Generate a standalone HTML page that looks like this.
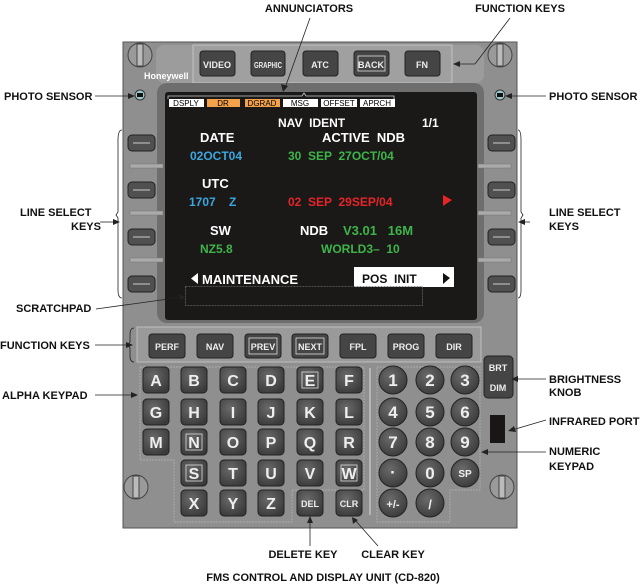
<!DOCTYPE html>
<html><head><meta charset="utf-8"><style>
html,body{margin:0;padding:0;background:#fff;width:640px;height:585px;overflow:hidden}
svg{display:block}
text{white-space:pre}
.lb{font-family:"Liberation Sans",Arial,sans-serif;font-weight:bold;font-size:11px;fill:#111}
.k{font-family:"Liberation Sans",Arial,sans-serif;font-weight:bold;fill:#eee;text-anchor:middle}
.s{font-family:"Liberation Sans",Arial,sans-serif;font-weight:bold;font-size:12px}
.ann{font-family:"Liberation Sans",Arial,sans-serif;font-size:8px;fill:#000;text-anchor:middle}
</style></head><body>
<svg width="640" height="585" viewBox="0 0 640 585" xmlns="http://www.w3.org/2000/svg" xml:space="preserve">
<defs>
<radialGradient id="kg" cx="40%" cy="35%" r="70%"><stop offset="0" stop-color="#6a6a6a"/><stop offset="1" stop-color="#3a3a3a"/></radialGradient>
</defs>
<rect x="123" y="42" width="394" height="486" fill="#8f8f8f" stroke="#555" stroke-width="1"/>
<rect x="156" y="45" width="328" height="38" rx="8" fill="#9c9c9c"/>
<rect x="193" y="45" width="259" height="38" fill="#a0a0a0" stroke="#ccc" stroke-width="0.8"/>
<rect x="157" y="83" width="327" height="240" rx="10" fill="#6e6e6e"/>
<rect x="165" y="92" width="312" height="228" rx="3" fill="#1b1818"/>
<rect x="137" y="327" width="344" height="35" fill="#9a9a9a" stroke="#c8c8c8" stroke-width="0.8"/>
<g stroke="#444" stroke-width="1">
<circle cx="140" cy="55" r="12" fill="#9a9a9a"/><rect x="137" y="44" width="6" height="22" fill="#bbb"/>
<circle cx="500" cy="55" r="12" fill="#9a9a9a"/><rect x="497" y="44" width="6" height="22" fill="#bbb"/>
<circle cx="136" cy="487" r="12" fill="#9a9a9a"/><rect x="133" y="476" width="6" height="22" fill="#bbb"/>
<circle cx="502" cy="487" r="12" fill="#9a9a9a"/><rect x="499" y="476" width="6" height="22" fill="#bbb"/>
</g>
<text x="144" y="79" font-family="Liberation Sans,Arial,sans-serif" font-weight="bold" font-size="9" fill="#fff">Honeywell</text>
<circle cx="140" cy="95" r="5" fill="#9cc8cc" stroke="#333"/><rect x="137" y="93" width="6" height="4" fill="#111"/>
<circle cx="500" cy="95" r="5" fill="#9cc8cc" stroke="#333"/><rect x="497" y="93" width="6" height="4" fill="#111"/>
<g>
<rect x="200" y="51" width="35" height="25" rx="3" fill="#454545" stroke="#222"/><text class="k" x="217" y="68" font-size="9">VIDEO</text>
<rect x="251" y="51" width="34" height="25" rx="3" fill="#454545" stroke="#222"/><text class="k" x="268" y="68" font-size="8" textLength="28" lengthAdjust="spacingAndGlyphs">GRAPHIC</text>
<rect x="303" y="51" width="35" height="25" rx="3" fill="#454545" stroke="#222"/><text class="k" x="320" y="68" font-size="9">ATC</text>
<rect x="354" y="51" width="35" height="25" rx="3" fill="#454545" stroke="#222"/><rect x="358" y="56" width="27" height="15" fill="none" stroke="#ddd" stroke-width="0.8"/><text class="k" x="371" y="68" font-size="9">BACK</text>
<rect x="405" y="51" width="35" height="25" rx="3" fill="#454545" stroke="#222"/><text class="k" x="422" y="68" font-size="9">FN</text>
</g>
<path d="M168 99 v-3 h134 l2 -3 l2 3 h88 v3" fill="none" stroke="#ccc" stroke-width="0.8"/>
<rect x="169" y="99" width="35" height="8" fill="#fff"/><text class="ann" x="186" y="106">DSPLY</text>
<rect x="207" y="99" width="33" height="8" fill="#f3a24a"/><text class="ann" x="223" y="106">DR</text>
<rect x="245" y="99" width="35" height="8" fill="#f3a24a"/><text class="ann" x="262" y="106">DGRAD</text>
<rect x="283" y="99" width="35" height="8" fill="#fff"/><text class="ann" x="300" y="106">MSG</text>
<rect x="321" y="99" width="36" height="8" fill="#fff"/><text class="ann" x="339" y="106">OFFSET</text>
<rect x="360" y="99" width="35" height="8" fill="#fff"/><text class="ann" x="377" y="106">APRCH</text>
<g class="s">
<text x="278" y="127" fill="#fff">NAV  IDENT</text>
<text x="422" y="127" fill="#fff">1/1</text>
<text x="200" y="142" fill="#fff" font-size="13">DATE</text>
<text x="322" y="142" fill="#fff" font-size="13">ACTIVE  NDB</text>
<text x="190" y="160" fill="#3aa7e0">02OCT04</text>
<text x="288" y="160" fill="#3db54a">30  SEP  27OCT/04</text>
<text x="202" y="188" fill="#fff" font-size="13">UTC</text>
<text x="189" y="206" fill="#3aa7e0">1707    Z</text>
<text x="288" y="206" fill="#e52528">02  SEP  29SEP/04</text>
<text x="210" y="235" fill="#fff" font-size="13">SW</text>
<text x="300" y="235" fill="#fff" font-size="13">NDB</text>
<text x="343" y="235" fill="#3db54a" font-size="13">V3.01   16M</text>
<text x="200" y="253" fill="#3db54a">NZ5.8</text>
<text x="321" y="253" fill="#3db54a">WORLD3–  10</text>
<text x="202" y="284" fill="#fff" font-size="13">MAINTENANCE</text>
</g>
<polygon points="443,195 452,200 443,206" fill="#e52528"/>
<polygon points="198,273 191,278.5 198,284" fill="#fff"/>
<rect x="354" y="267" width="100" height="20" fill="#fff"/>
<text class="s" x="362" y="283" fill="#111" font-size="13">POS  INIT</text>
<polygon points="443,273 450,278 443,284" fill="#111"/>
<rect x="185.5" y="286.5" width="237" height="19" fill="none" stroke="#666" stroke-dasharray="2,1" stroke-width="0.8"/>
<g>
<g fill="#505050" stroke="#222">
<rect x="128" y="135" width="27" height="16" rx="4"/><rect x="128" y="182" width="27" height="16" rx="4"/><rect x="128" y="229" width="27" height="16" rx="4"/><rect x="128" y="276" width="27" height="16" rx="4"/>
<rect x="488" y="135" width="27" height="16" rx="4"/><rect x="488" y="182" width="27" height="16" rx="4"/><rect x="488" y="229" width="27" height="16" rx="4"/><rect x="488" y="276" width="27" height="16" rx="4"/>
</g>
<g stroke="#ccc" stroke-width="1">
<line x1="133" y1="143" x2="150" y2="143"/><line x1="133" y1="190" x2="150" y2="190"/><line x1="133" y1="237" x2="150" y2="237"/><line x1="133" y1="284" x2="150" y2="284"/>
<line x1="493" y1="143" x2="510" y2="143"/><line x1="493" y1="190" x2="510" y2="190"/><line x1="493" y1="237" x2="510" y2="237"/><line x1="493" y1="284" x2="510" y2="284"/>
</g>
<g fill="#aaa" stroke="#777" stroke-width="0.5">
<rect x="130" y="164" width="33" height="4"/><rect x="130" y="211" width="33" height="4"/><rect x="130" y="258" width="33" height="4"/>
<rect x="478" y="164" width="33" height="4"/><rect x="478" y="211" width="33" height="4"/><rect x="478" y="258" width="33" height="4"/>
</g>
</g>
<g>
<rect x="149" y="334" width="36" height="24" rx="3" fill="#454545" stroke="#222"/><text class="k" x="167" y="350" font-size="9">PERF</text>
<rect x="197" y="334" width="36" height="24" rx="3" fill="#454545" stroke="#222"/><text class="k" x="215" y="350" font-size="9">NAV</text>
<rect x="245" y="334" width="36" height="24" rx="3" fill="#454545" stroke="#222"/><rect x="249" y="338" width="28" height="16" fill="none" stroke="#ddd" stroke-width="0.8"/><text class="k" x="263" y="350" font-size="9">PREV</text>
<rect x="292" y="334" width="36" height="24" rx="3" fill="#454545" stroke="#222"/><rect x="296" y="338" width="28" height="16" fill="none" stroke="#ddd" stroke-width="0.8"/><text class="k" x="310" y="350" font-size="9">NEXT</text>
<rect x="340" y="334" width="36" height="24" rx="3" fill="#454545" stroke="#222"/><text class="k" x="358" y="350" font-size="9">FPL</text>
<rect x="388" y="334" width="36" height="24" rx="3" fill="#454545" stroke="#222"/><text class="k" x="406" y="350" font-size="9">PROG</text>
<rect x="436" y="334" width="36" height="24" rx="3" fill="#454545" stroke="#222"/><text class="k" x="454" y="350" font-size="9">DIR</text>
</g>
<path d="M140 367 H364 V490 H292 V522 H174 V460 H140 Z" fill="none" stroke="#b5b5b5" stroke-width="0.7" stroke-dasharray="2,1"/>
<path d="M377 367 H480 V490 H450 V522 H377 Z" fill="none" stroke="#b5b5b5" stroke-width="0.7" stroke-dasharray="2,1"/>
<line x1="370" y1="368" x2="370" y2="515" stroke="#ddd" stroke-width="1"/>
<g font-size="16">
<g fill="url(#kg)" stroke="#222">
<rect x="143" y="367" width="26" height="26" rx="4"/><rect x="181" y="367" width="26" height="26" rx="4"/><rect x="220" y="367" width="26" height="26" rx="4"/><rect x="258" y="367" width="26" height="26" rx="4"/><rect x="297" y="367" width="26" height="26" rx="4"/><rect x="336" y="367" width="26" height="26" rx="4"/>
<rect x="143" y="399" width="26" height="26" rx="4"/><rect x="181" y="399" width="26" height="26" rx="4"/><rect x="220" y="399" width="26" height="26" rx="4"/><rect x="258" y="399" width="26" height="26" rx="4"/><rect x="297" y="399" width="26" height="26" rx="4"/><rect x="336" y="399" width="26" height="26" rx="4"/>
<rect x="143" y="429" width="26" height="26" rx="4"/><rect x="181" y="429" width="26" height="26" rx="4"/><rect x="220" y="429" width="26" height="26" rx="4"/><rect x="258" y="429" width="26" height="26" rx="4"/><rect x="297" y="429" width="26" height="26" rx="4"/><rect x="336" y="429" width="26" height="26" rx="4"/>
<rect x="181" y="460" width="26" height="26" rx="4"/><rect x="220" y="460" width="26" height="26" rx="4"/><rect x="258" y="460" width="26" height="26" rx="4"/><rect x="297" y="460" width="26" height="26" rx="4"/><rect x="336" y="460" width="26" height="26" rx="4"/>
<rect x="181" y="490" width="26" height="26" rx="4"/><rect x="220" y="490" width="26" height="26" rx="4"/><rect x="258" y="490" width="26" height="26" rx="4"/><rect x="297" y="490" width="26" height="26" rx="4"/><rect x="336" y="490" width="26" height="26" rx="4"/>
</g>
<g fill="none" stroke="#ddd" stroke-width="0.8">
<rect x="302" y="372" width="16" height="16"/><rect x="186" y="434" width="16" height="16"/><rect x="186" y="465" width="16" height="16"/><rect x="341" y="465" width="16" height="16"/>
</g>
<g class="k">
<text x="156" y="386">A</text><text x="194" y="386">B</text><text x="233" y="386">C</text><text x="271" y="386">D</text><text x="310" y="386">E</text><text x="349" y="386">F</text>
<text x="156" y="418">G</text><text x="194" y="418">H</text><text x="233" y="418">I</text><text x="271" y="418">J</text><text x="310" y="418">K</text><text x="349" y="418">L</text>
<text x="156" y="448">M</text><text x="194" y="448">N</text><text x="233" y="448">O</text><text x="271" y="448">P</text><text x="310" y="448">Q</text><text x="349" y="448">R</text>
<text x="194" y="479">S</text><text x="233" y="479">T</text><text x="271" y="479">U</text><text x="310" y="479">V</text><text x="349" y="479">W</text>
<text x="194" y="509">X</text><text x="233" y="509">Y</text><text x="271" y="509">Z</text>
<text x="310" y="507" font-size="9">DEL</text><text x="349" y="507" font-size="9">CLR</text>
</g>
</g>
<g>
<g fill="url(#kg)" stroke="#222">
<circle cx="393" cy="380" r="14"/><circle cx="430" cy="380" r="14"/><circle cx="465" cy="380" r="14"/>
<circle cx="393" cy="412" r="14"/><circle cx="430" cy="412" r="14"/><circle cx="465" cy="412" r="14"/>
<circle cx="393" cy="442" r="14"/><circle cx="430" cy="442" r="14"/><circle cx="465" cy="442" r="14"/>
<circle cx="393" cy="473" r="14"/><circle cx="430" cy="473" r="14"/><circle cx="465" cy="473" r="14"/>
<circle cx="393" cy="503" r="14"/><circle cx="430" cy="503" r="14"/>
</g>
<g class="k" font-size="17">
<text x="393" y="386">1</text><text x="430" y="386">2</text><text x="465" y="386">3</text>
<text x="393" y="418">4</text><text x="430" y="418">5</text><text x="465" y="418">6</text>
<text x="393" y="448">7</text><text x="430" y="448">8</text><text x="465" y="448">9</text>
<text x="393" y="478">·</text><text x="430" y="479">0</text><text x="465" y="477" font-size="10">SP</text>
<text x="393" y="508" font-size="11">+/-</text><text x="430" y="509" font-size="13">/</text>
</g>
</g>
<rect x="484" y="356" width="29" height="42" rx="4" fill="#454545" stroke="#222"/>
<text class="k" x="498" y="371" font-size="9">BRT</text><text class="k" x="498" y="391" font-size="9">DIM</text>
<rect x="490" y="415" width="15" height="28" fill="#1b1616"/>
<g class="lb">
<text x="309" y="12" text-anchor="middle">ANNUNCIATORS</text>
<text x="520" y="12" text-anchor="middle">FUNCTION KEYS</text>
<text x="4" y="100">PHOTO SENSOR</text>
<text x="549" y="100">PHOTO SENSOR</text>
<text x="20" y="216">LINE SELECT</text><text x="71" y="230">KEYS</text>
<text x="549" y="216">LINE SELECT</text><text x="549" y="230">KEYS</text>
<text x="16" y="312">SCRATCHPAD</text>
<text x="0" y="349">FUNCTION KEYS</text>
<text x="2" y="399">ALPHA KEYPAD</text>
<text x="549" y="383">BRIGHTNESS</text><text x="549" y="396">KNOB</text>
<text x="549" y="425">INFRARED PORT</text>
<text x="549" y="455">NUMERIC</text><text x="549" y="470">KEYPAD</text>
<text x="303" y="558" text-anchor="middle">DELETE KEY</text>
<text x="393" y="558" text-anchor="middle">CLEAR KEY</text>
<text x="323" y="581" text-anchor="middle">FMS CONTROL AND DISPLAY UNIT (CD-820)</text>
</g>
<g stroke="#222" stroke-width="0.8" fill="none">
<line x1="310" y1="18" x2="285" y2="88"/>
<line x1="510" y1="18" x2="475" y2="64"/><line x1="475" y1="64" x2="458" y2="64"/>
<line x1="95" y1="96" x2="132" y2="96"/>
<line x1="546" y1="96" x2="508" y2="96"/>
<line x1="100" y1="222" x2="116" y2="222"/>
<path d="M122 130 Q118 130 118 140 V212 L116 215 L118 218 V290 Q118 298 122 298"/>
<line x1="530" y1="222" x2="520" y2="222"/>
<path d="M518 130 Q521 130 521 140 V212 L523 215 L521 218 V290 Q521 298 518 298"/>
<line x1="96" y1="309" x2="183" y2="297"/>
<line x1="95" y1="345" x2="128" y2="345"/>
<path d="M134 328 Q130 328 130 335 V342 L128 345 L130 348 V356 Q130 362 134 362"/>
<line x1="95" y1="395" x2="136" y2="395"/>
<line x1="546" y1="379" x2="514" y2="379"/>
<line x1="546" y1="420" x2="512" y2="430"/>
<line x1="546" y1="452" x2="484" y2="452"/>
<line x1="310" y1="546" x2="310" y2="520"/>
<line x1="378" y1="546" x2="355" y2="520"/>
</g>
<g fill="#222">
<polygon points="283,92 281,84 288,86"/>
<polygon points="453,64 460,61 460,67"/>
<polygon points="135,96 128,93 128,99"/>
<polygon points="505,96 512,93 512,99"/>
<polygon points="120,222 113,219 113,225"/>
<polygon points="518,222 525,219 525,225"/>
<polygon points="186,297 179,294 180,300"/>
<polygon points="138,395 131,392 131,398"/>
<polygon points="511,379 518,376 518,382"/>
<polygon points="508,431 514,426 516,432"/>
<polygon points="481,452 488,449 488,455"/>
<polygon points="310,516 307,523 313,523"/>
<polygon points="352,517 353,524 358,520"/>
<polygon points="133,345 126,342 126,348"/>
</g>
</svg>
</body></html>
